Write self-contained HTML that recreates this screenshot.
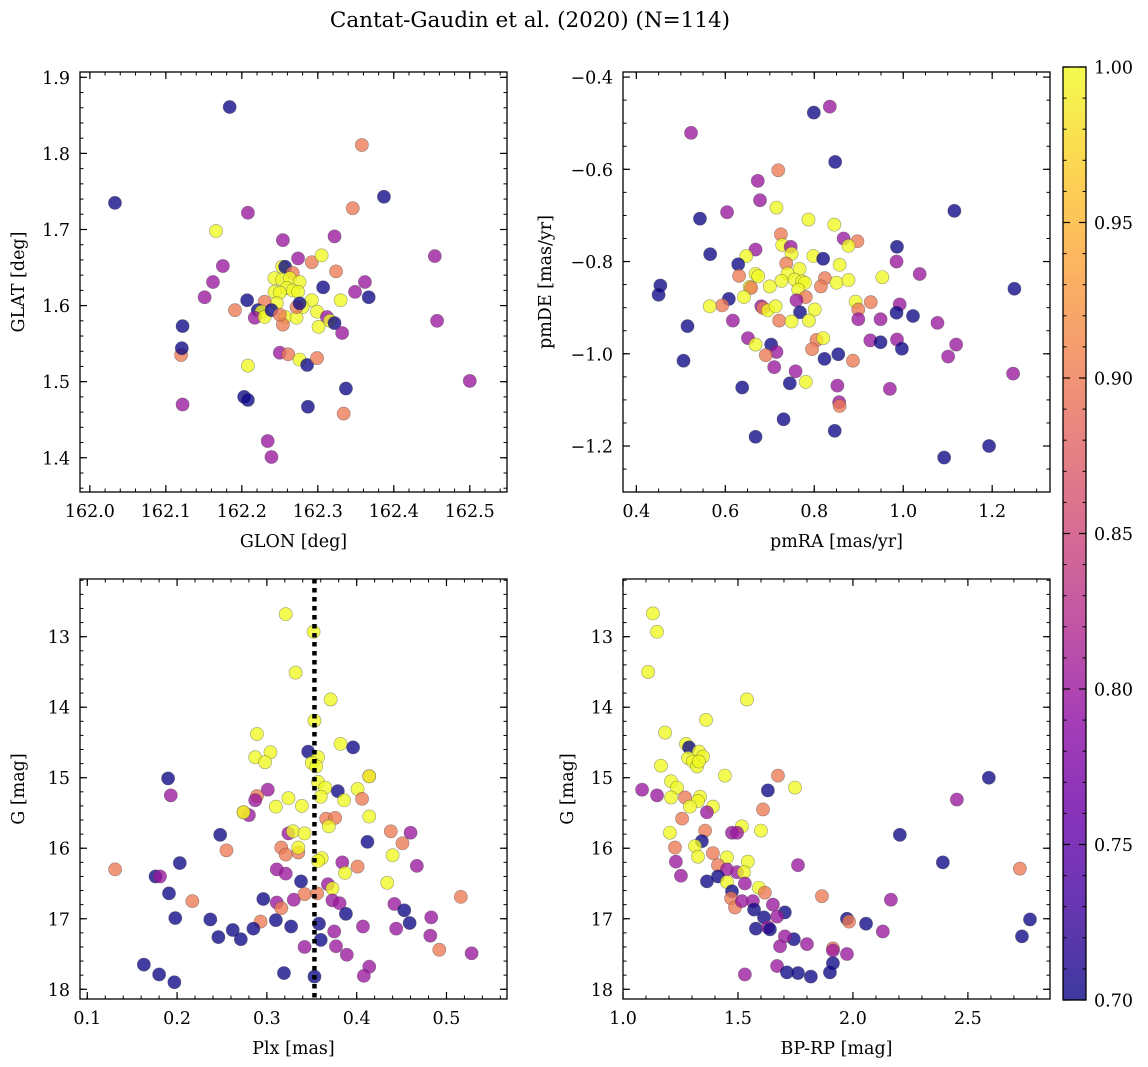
<!DOCTYPE html>
<html><head><meta charset="utf-8">
<style>
html,body{margin:0;padding:0;background:#fff;}
svg{display:block;font-family:"DejaVu Serif","Liberation Serif",serif;}
</style></head>
<body>
<svg id="fig" width="1148" height="1067" viewBox="0 0 1148 1067" xmlns="http://www.w3.org/2000/svg">
<rect width="1148" height="1067" fill="#fff"/>
<text x="530" y="27" font-size="21.5" text-anchor="middle">Cantat-Gaudin et al. (2020) (N=114)</text>
<defs>
<linearGradient id="plasma" x1="0" y1="1" x2="0" y2="0">
<stop offset="0" stop-color="#0d0887"/><stop offset="0.1" stop-color="#41049d"/><stop offset="0.2" stop-color="#6a00a8"/><stop offset="0.3" stop-color="#8f0da4"/><stop offset="0.4" stop-color="#b12a90"/><stop offset="0.5" stop-color="#cc4778"/><stop offset="0.6" stop-color="#e16462"/><stop offset="0.7" stop-color="#f2844b"/><stop offset="0.8" stop-color="#fca636"/><stop offset="0.9" stop-color="#fcce25"/><stop offset="1" stop-color="#f0f921"/>
</linearGradient>
</defs>
</svg>
<script>
// ---- data (x, y, membership probability) ----
const tlPoints = [[162.033,1.735,.7],[162.184,1.861,.7],[162.358,1.811,.9],[162.387,1.743,.7],[162.346,1.728,.9],[162.208,1.722,.8],[162.166,1.698,1],[162.254,1.686,.8],[162.322,1.691,.8],[162.274,1.662,.8],[162.292,1.657,.9],[162.305,1.666,1],[162.175,1.652,.8],[162.324,1.645,.9],[162.162,1.631,.8],[162.151,1.611,.8],[162.207,1.607,.7],[162.191,1.594,.9],[162.253,1.651,1],[162.257,1.651,.7],[162.267,1.643,.9],[162.243,1.636,1],[162.253,1.634,1],[162.263,1.636,1],[162.276,1.631,1],[162.259,1.623,1],[162.267,1.620,1],[162.243,1.618,1],[162.274,1.618,1],[162.25,1.617,1],[162.307,1.624,.7],[162.349,1.618,.8],[162.362,1.631,.8],[162.367,1.611,.7],[162.33,1.607,1],[162.292,1.607,1],[162.28,1.598,1],[162.246,1.603,1],[162.23,1.605,.9],[162.221,1.594,.7],[162.226,1.592,1],[162.217,1.584,.8],[162.23,1.585,1],[162.257,1.585,1],[162.272,1.584,1],[162.299,1.592,1],[162.312,1.585,.8],[162.316,1.580,1],[162.322,1.577,.7],[162.332,1.564,.8],[162.301,1.572,1],[162.254,1.575,.9],[162.239,1.594,.7],[162.25,1.588,.9],[162.272,1.598,.9],[162.276,1.603,.7],[162.25,1.538,.8],[162.261,1.536,.9],[162.276,1.529,1],[162.286,1.522,.7],[162.299,1.531,.9],[162.208,1.521,1],[162.454,1.665,.8],[162.457,1.580,.8],[162.5,1.501,.8],[162.12,1.535,.9],[162.121,1.544,.7],[162.122,1.573,.7],[162.122,1.470,.8],[162.203,1.480,.7],[162.208,1.476,.7],[162.287,1.467,.7],[162.337,1.491,.7],[162.334,1.458,.9],[162.234,1.422,.8],[162.239,1.401,.8]];
const trPoints = [[.835,-.464,.8],[.799,-.477,.7],[.523,-.521,.8],[.847,-.584,.7],[.719,-.602,.9],[.673,-.625,.8],[.678,-.667,.8],[.715,-.683,1],[.604,-.693,.8],[.543,-.707,.7],[1.115,-.69,.7],[.787,-.709,1],[.845,-.72,1],[.725,-.741,.9],[.866,-.75,.8],[.897,-.756,.9],[.877,-.766,1],[.728,-.764,1],[.747,-.768,.8],[.986,-.768,.7],[.668,-.774,.8],[.749,-.783,1],[.566,-.784,.7],[.647,-.788,1],[.798,-.788,1],[.82,-.794,.7],[.985,-.8,.8],[.737,-.804,.9],[.857,-.807,1],[.629,-.806,.7],[.767,-.816,1],[1.037,-.827,.8],[.953,-.834,1],[.631,-.831,.9],[.668,-.827,1],[.674,-.832,1],[.74,-.826,1],[.824,-.836,.9],[.726,-.842,1],[.756,-.839,1],[.773,-.843,1],[.779,-.846,1],[.7,-.854,1],[.85,-.846,1],[.877,-.84,1],[.815,-.854,.9],[.655,-.855,1],[.658,-.857,.9],[.454,-.852,.7],[.45,-.872,.7],[1.25,-.859,.7],[.764,-.861,1],[.781,-.877,.9],[.642,-.877,1],[.608,-.881,.7],[.76,-.884,.8],[.593,-.895,.9],[.565,-.897,1],[.681,-.897,.8],[.685,-.901,.9],[.696,-.906,1],[.713,-.897,1],[.893,-.887,1],[.899,-.904,.9],[.927,-.888,.9],[.992,-.893,.8],[.985,-.911,.7],[1.022,-.918,.7],[.768,-.91,.7],[.801,-.904,1],[.899,-.925,.8],[.949,-.925,.8],[1.077,-.933,.8],[.617,-.928,.8],[.721,-.928,.9],[.749,-.93,1],[.788,-.928,1],[.515,-.94,.7],[.651,-.966,.8],[.668,-.98,1],[.703,-.98,.7],[.715,-.996,.8],[.691,-1.003,.9],[.805,-.97,.9],[.82,-.966,1],[.795,-.99,.9],[.823,-1.011,.7],[.854,-1.001,.7],[.887,-1.015,.9],[.926,-.971,.8],[.949,-.975,.7],[.986,-.969,.8],[.997,-.989,.7],[1.119,-.98,.8],[1.101,-1.006,.8],[.506,-1.015,.7],[.71,-1.029,.8],[.758,-1.038,.8],[.638,-1.073,.7],[.745,-1.064,.7],[.781,-1.061,1],[.852,-1.069,.8],[.97,-1.076,.8],[1.247,-1.043,.8],[.856,-1.105,.8],[.857,-1.113,.9],[.731,-1.142,.7],[.668,-1.18,.7],[.846,-1.167,.7],[1.092,-1.225,.7],[1.193,-1.2,.7]];
const blPoints = [[.321,12.68,1],[.352,12.93,1],[.332,13.51,1],[.371,13.89,1],[.353,14.19,1],[.289,14.38,1],[.382,14.52,1],[.396,14.57,.7],[.346,14.63,.7],[.287,14.71,1],[.304,14.64,1],[.298,14.78,1],[.357,14.71,1],[.35,14.79,1],[.355,14.84,1],[.19,15.01,.7],[.193,15.25,.8],[.301,15.17,.8],[.289,15.26,.9],[.287,15.32,.8],[.357,15.06,1],[.365,15.14,1],[.379,15.19,.7],[.401,15.16,1],[.414,14.98,.9],[.414,14.98,1],[.324,15.29,1],[.36,15.27,1],[.386,15.32,1],[.406,15.3,.9],[.31,15.41,1],[.339,15.4,1],[.28,15.53,.8],[.274,15.49,.9],[.274,15.49,1],[.366,15.58,.9],[.376,15.57,.9],[.369,15.69,1],[.414,15.55,1],[.324,15.79,.8],[.329,15.76,1],[.342,15.79,1],[.248,15.81,.7],[.438,15.76,.9],[.46,15.78,.8],[.412,15.91,.7],[.451,15.93,.9],[.255,16.03,.9],[.316,15.99,.9],[.321,16.09,.9],[.335,16.06,.9],[.335,15.99,1],[.361,16.14,1],[.357,16.18,1],[.384,16.2,.8],[.401,16.26,.9],[.44,16.1,1],[.467,16.25,.8],[.131,16.3,.9],[.203,16.21,.7],[.176,16.4,.7],[.181,16.4,.8],[.311,16.3,.8],[.321,16.36,.8],[.387,16.35,1],[.338,16.47,.7],[.368,16.51,.8],[.373,16.57,1],[.434,16.49,1],[.191,16.64,.7],[.217,16.75,.9],[.296,16.72,.7],[.311,16.77,.8],[.316,16.85,.9],[.33,16.73,.8],[.342,16.65,.9],[.356,16.64,.9],[.373,16.74,.8],[.381,16.78,.8],[.388,16.93,.7],[.442,16.79,.8],[.453,16.88,.7],[.516,16.69,.9],[.483,16.98,.8],[.198,16.99,.7],[.237,17.01,.7],[.293,17.04,.9],[.31,17.02,.7],[.327,17.11,.7],[.358,17.07,.7],[.407,17.11,.8],[.444,17.14,.8],[.459,17.06,.7],[.262,17.16,.7],[.285,17.14,.7],[.246,17.26,.7],[.271,17.29,.7],[.36,17.3,.7],[.375,17.18,.8],[.482,17.24,.8],[.342,17.4,.8],[.377,17.39,.8],[.389,17.51,.8],[.492,17.44,.9],[.528,17.49,.8],[.163,17.65,.7],[.18,17.79,.7],[.197,17.9,.7],[.319,17.77,.7],[.353,17.82,.7],[.414,17.68,.8],[.408,17.81,.8]];
const brPoints = [[1.13,12.67,1],[1.148,12.93,1],[1.109,13.5,1],[1.539,13.89,1],[1.361,14.18,1],[1.183,14.36,1],[1.274,14.52,1],[1.287,14.57,.7],[1.33,14.63,1],[1.348,14.7,1],[1.283,14.72,1],[1.304,14.77,1],[1.322,14.84,1],[1.33,14.77,1],[1.165,14.83,1],[1.443,14.97,1],[1.674,14.97,.9],[1.748,15.14,1],[1.63,15.18,.7],[1.083,15.17,.8],[1.148,15.25,.8],[1.209,15.05,1],[1.235,15.14,1],[1.209,15.28,1],[1.27,15.28,.9],[1.335,15.27,1],[1.326,15.33,1],[1.291,15.41,1],[1.391,15.41,1],[1.365,15.49,.8],[1.257,15.58,.9],[1.609,15.45,.9],[1.517,15.69,1],[1.6,15.75,1],[1.357,15.75,.9],[1.474,15.78,.8],[1.496,15.78,.8],[1.204,15.78,1],[1.343,15.9,.7],[1.226,15.99,.9],[1.313,15.97,1],[1.326,16.12,1],[1.391,16.07,.9],[1.23,16.19,.8],[1.452,16.13,1],[1.543,16.19,1],[1.413,16.24,.9],[1.452,16.3,.8],[1.496,16.34,.8],[1.526,16.34,1],[1.761,16.24,.8],[1.252,16.39,.8],[1.365,16.47,.7],[1.413,16.4,.7],[1.53,16.5,.8],[1.452,16.48,1],[1.591,16.56,1],[1.617,16.63,.9],[1.865,16.68,.9],[1.474,16.61,.7],[1.47,16.71,.9],[1.487,16.84,.9],[1.517,16.75,.8],[1.565,16.75,.8],[1.57,16.87,.7],[1.652,16.8,.8],[1.704,16.91,.7],[1.613,16.98,.7],[1.67,16.97,.8],[1.578,17.14,.7],[1.63,17.12,.8],[1.639,17.15,.7],[1.743,17.29,.7],[1.704,17.25,.8],[1.683,17.39,.8],[1.8,17.36,.8],[1.67,17.67,.8],[1.913,17.42,.9],[1.913,17.45,.8],[1.974,17.5,.8],[1.913,17.63,.7],[1.9,17.76,.7],[1.974,17.0,.7],[1.983,17.04,.9],[1.53,17.79,.8],[1.713,17.76,.7],[1.761,17.77,.7],[1.817,17.82,.7],[2.591,15.0,.7],[2.452,15.31,.8],[2.204,15.81,.7],[2.391,16.2,.7],[2.726,16.29,.9],[2.165,16.73,.8],[2.057,17.07,.7],[2.13,17.18,.8],[2.77,17.01,.7],[2.735,17.25,.7]];
const plxMedian = [0.353];
const tlXTicks = [162.0,162.1,162.2,162.3,162.4,162.5];
const tlYTicks = [1.4,1.5,1.6,1.7,1.8,1.9];
const trXTicks = [0.4,0.6,0.8,1.0,1.2];
const trYTicks = [-0.4,-0.6,-0.8,-1.0,-1.2];
const blXTicks = [0.1,0.2,0.3,0.4,0.5];
const gTicks = [13,14,15,16,17,18];
const brXTicks = [1.0,1.5,2.0,2.5];
const cbTicks = [0.70,0.75,0.80,0.85,0.90,0.95,1.00];

const NS="http://www.w3.org/2000/svg";
const svg=document.getElementById('fig');
const FS=17.5;
const stops=[[0,13,8,135],[.1,65,4,157],[.2,106,0,168],[.3,143,13,164],[.4,177,42,144],[.5,204,71,120],[.6,225,100,98],[.7,242,132,75],[.8,252,166,54],[.9,252,206,37],[1,240,249,33]];
function cmap(p){let t=(p-0.7)/0.3;t=Math.max(0,Math.min(1,t));for(let i=1;i<stops.length;i++){if(t<=stops[i][0]){const a=stops[i-1],b=stops[i];const f=(t-a[0])/(b[0]-a[0]);return `rgb(${Math.round(a[1]+f*(b[1]-a[1]))},${Math.round(a[2]+f*(b[2]-a[2]))},${Math.round(a[3]+f*(b[3]-a[3]))})`;}}return 'rgb(240,249,33)';}
function el(tag,attrs,parent){const e=document.createElementNS(NS,tag);for(const k in attrs)e.setAttribute(k,attrs[k]);(parent||svg).appendChild(e);return e;}

function panel(c){
  const g=el('g',{});
  
  
  const sx=v=>c.x0+(v-c.xmin)/(c.xmax-c.xmin)*c.w;
  const sy=c.yinv?(v=>c.y0+(v-c.ymin)/(c.ymax-c.ymin)*c.h):(v=>c.y0+c.h-(v-c.ymin)/(c.ymax-c.ymin)*c.h);
  const clipId='clip-'+c.name;
  const cp=el('clipPath',{id:clipId},g);el('rect',{x:c.x0,y:c.y0,width:c.w,height:c.h},cp);
  const pg=el('g',{'clip-path':`url(#${clipId})`},g);
  c.points.forEach(d=>{
    const m=el('circle',{cx:sx(d[0]),cy:sy(d[1]),r:6.6,fill:cmap(d[2]),'fill-opacity':0.78,stroke:'#444','stroke-opacity':0.5,'stroke-width':0.6},pg);
    
    
  });
  if(c.vline){c.vline.forEach(v=>{const l=el('line',{x1:sx(v),x2:sx(v),y1:c.y0,y2:c.y0+c.h,stroke:'#000','stroke-width':4.5,'stroke-dasharray':'4.5 4.5'},pg);
    
    });}
  const tk=(x1,y1,x2,y2,w)=>el('line',{x1,y1,x2,y2,stroke:'#000','stroke-width':w},g);
  const lo=Math.min(c.xmin,c.xmax),hi=Math.max(c.xmin,c.xmax);
  for(let v=Math.ceil(lo/c.xminor-1e-6)*c.xminor;v<=hi+1e-9;v+=c.xminor){const x=sx(v);tk(x,c.y0+c.h,x,c.y0+c.h-3.5,1);tk(x,c.y0,x,c.y0+3.5,1);}
  for(let v=Math.ceil(Math.min(c.ymin,c.ymax)/c.yminor-1e-6)*c.yminor;v<=Math.max(c.ymin,c.ymax)+1e-9;v+=c.yminor){const y=sy(v);tk(c.x0,y,c.x0+3.5,y,1);tk(c.x0+c.w,y,c.x0+c.w-3.5,y,1);}
  c.xticks.forEach(v=>{const x=sx(v);tk(x,c.y0+c.h,x,c.y0+c.h-7,1.2);tk(x,c.y0,x,c.y0+7,1.2);
    const t=el('text',{x:x,y:c.y0+c.h+25,'font-size':FS,'text-anchor':'middle'},g);t.textContent=c.xfmt(v);
    
    });
  c.yticks.forEach(v=>{const y=sy(v);tk(c.x0,y,c.x0+7,y,1.2);tk(c.x0+c.w,y,c.x0+c.w-7,y,1.2);
    const t=el('text',{x:c.x0-10,y:y+6.5,'font-size':FS,'text-anchor':'end'},g);t.textContent=c.yfmt(v);
    
    });
  const fr=el('rect',{x:c.x0,y:c.y0,width:c.w,height:c.h,fill:'none',stroke:'#000','stroke-width':1.3},g);
  
  
  const xl=el('text',{x:c.x0+c.w/2,y:c.y0+c.h+55,'font-size':FS,'text-anchor':'middle'},g);xl.textContent=c.xlabel;
  
  
  const yx=c.ylx,yy=c.y0+c.h/2;
  const yl=el('text',{x:yx,y:yy,'font-size':FS,'text-anchor':'middle',transform:`rotate(-90 ${yx} ${yy})`},g);yl.textContent=c.ylabel;
  
  
}
const f1=v=>v.toFixed(1), fm=v=>(v<0?'\u2212':'')+Math.abs(v).toFixed(1), f0=v=>String(v);
panel({name:'glon-glat-panel',x0:80,y0:72,w:427,h:420,xmin:161.987,xmax:162.549,ymin:1.355,ymax:1.907,xminor:0.02,yminor:0.02,xticks:tlXTicks,yticks:tlYTicks,xfmt:f1,yfmt:f1,xlabel:'GLON [deg]',ylabel:'GLAT [deg]',ylx:24,points:tlPoints});
panel({name:'proper-motion-panel',x0:623,y0:72,w:427,h:420,xmin:0.370,xmax:1.330,ymin:-1.2997,ymax:-0.389,xminor:0.05,yminor:0.05,xticks:trXTicks,yticks:trYTicks,xfmt:f1,yfmt:fm,xlabel:'pmRA [mas/yr]',ylabel:'pmDE [mas/yr]',ylx:551,points:trPoints});
panel({name:'parallax-panel',x0:80,y0:579,w:427,h:420,xmin:0.0919,xmax:0.5674,ymin:12.182,ymax:18.138,yinv:true,xminor:0.02,yminor:0.2,xticks:blXTicks,yticks:gTicks,xfmt:f1,yfmt:f0,xlabel:'Plx [mas]',ylabel:'G [mag]',ylx:24,points:blPoints,vline:plxMedian});
panel({name:'cmd-panel',x0:623,y0:579,w:427,h:420,xmin:1.0,xmax:2.857,ymin:12.182,ymax:18.138,yinv:true,xminor:0.1,yminor:0.2,xticks:brXTicks,yticks:gTicks,xfmt:f1,yfmt:f0,xlabel:'BP-RP [mag]',ylabel:'G [mag]',ylx:573,points:brPoints});

// colorbar
const cb=el('g',{});


const cbx=1063,cby=67,cbw=23,cbh=933;
el('rect',{x:cbx,y:cby,width:cbw,height:cbh,fill:'url(#plasma)','fill-opacity':0.8},cb);
const cs=v=>cby+cbh-(v-0.70)/0.30*cbh;
for(let i=0;i<=30;i++){const y=cs(0.70+i*0.01);el('line',{x1:cbx+cbw,x2:cbx+cbw-3.5,y1:y,y2:y,stroke:'#000','stroke-width':1},cb);el('line',{x1:cbx,x2:cbx+3.5,y1:y,y2:y,stroke:'#000','stroke-width':1},cb);}
cbTicks.forEach(v=>{const y=cs(v);el('line',{x1:cbx+cbw,x2:cbx+cbw-7,y1:y,y2:y,stroke:'#000','stroke-width':1.2},cb);el('line',{x1:cbx,x2:cbx+7,y1:y,y2:y,stroke:'#000','stroke-width':1.2},cb);
  const t=el('text',{x:cbx+cbw+8,y:y+6.5,'font-size':FS},cb);t.textContent=v.toFixed(2);
  
  });
el('rect',{x:cbx,y:cby,width:cbw,height:cbh,fill:'none',stroke:'#000','stroke-width':1.3},cb);
</script>
</body></html>
